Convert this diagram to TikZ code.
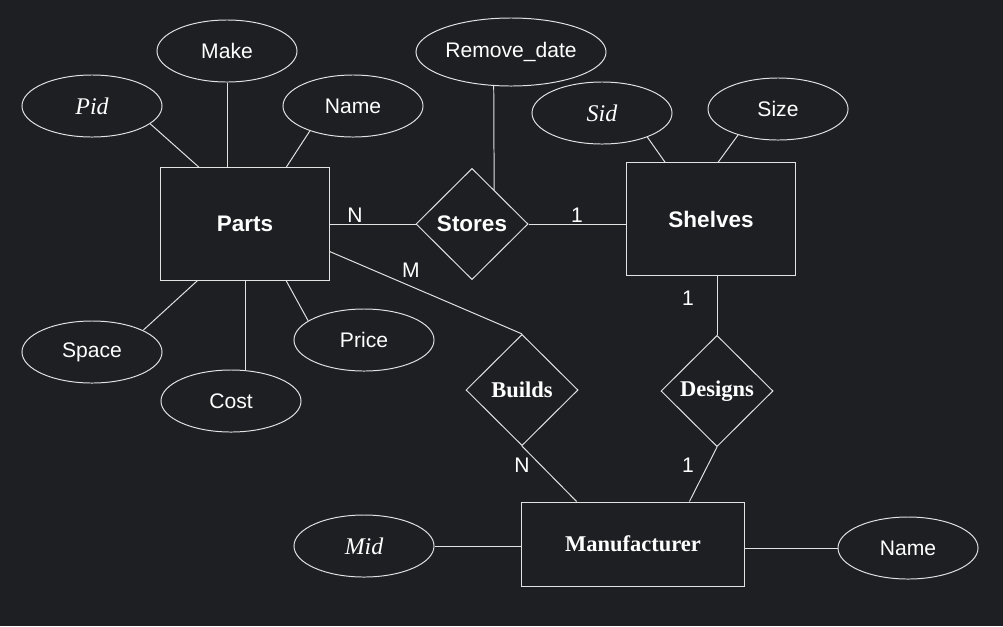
\documentclass[tikz,border=0pt]{standalone}
\usepackage{fontspec}
\setmainfont{Liberation Serif}
\setsansfont{Liberation Sans}
\usetikzlibrary{shapes.geometric,calc}

\definecolor{bgdark}{HTML}{1D1F23}
\definecolor{linegray}{HTML}{E2E2E2}

\begin{document}
\begin{tikzpicture}[
    x=0.025cm, y=-0.025cm,
    line width=0.7pt,
    entity/.style={draw=linegray, rectangle, inner sep=0pt, minimum width=4.2cm, minimum height=2.8cm, text=white, font=\sffamily\bfseries\fontsize{16}{19}\selectfont},
    attrib/.style={draw=linegray, ellipse, inner sep=0pt, minimum width=3.5cm, minimum height=1.55cm, text=white, font=\sffamily\fontsize{15}{18}\selectfont},
    keyattr/.style={attrib, font=\itshape\fontsize{17}{20}\selectfont},
    rel/.style={draw=linegray, diamond, inner sep=0pt, minimum width=2.8cm, minimum height=2.78cm, text=white, font=\bfseries\fontsize{16}{19}\selectfont},
    card/.style={text=white, inner sep=0pt, font=\sffamily\fontsize{15}{18}\selectfont},
    link/.style={draw=linegray}
]

\fill[bgdark] (0,0) rectangle (1003,626);
\useasboundingbox (0,0) rectangle (1003,626);

% entities
\node[entity] (parts) at (245,224) {Parts};
\node[entity] (shelves) at (711,219) {Shelves};
\node[entity, minimum width=5.55cm, minimum height=2.1cm, font=\bfseries\fontsize{16}{19}\selectfont] (manu) at (633,544) {Manufacturer};

% relationships
\node[rel, font=\sffamily\bfseries\fontsize{16}{19}\selectfont] (stores) at (472,224) {Stores};
\node[rel] (builds) at (522,390) {Builds};
\node[rel] (designs) at (717,391) {Designs};

% attributes of Parts
\node[keyattr] (pid) at (92,106) {Pid};
\node[attrib] (make) at (227,51) {Make};
\node[attrib] (pname) at (353,106) {Name};
\node[attrib] (space) at (92,352) {Space};
\node[attrib] (cost) at (231,401) {Cost};
\node[attrib] (price) at (364,340) {Price};

% attributes of Stores and Shelves
\node[attrib, minimum width=4.75cm, minimum height=1.7cm] (remove) at (511,52) {Remove\_date};
\node[keyattr] (sid) at (602,113) {Sid};
\node[attrib] (size) at (778,109) {Size};

% attributes of Manufacturer
\node[keyattr] (mid) at (364,546) {Mid};
\node[attrib] (mname) at (908,548) {Name};

% cardinalities
\node[card] (cardps) at (355,215) {N};
\node[card] (cardss) at (577,215) {1};
\node[card] (cardpb) at (411,270) {M};
\node[card] (cardsd) at (688,298) {1};
\node[card] (cardbm) at (522,465) {N};
\node[card] (carddm) at (688,465) {1};

% attribute links
\draw[link] (pid.-17) -- (parts.129);
\draw[link] (make.south) -- (make.south |- parts.north);
\draw[link] (pname.-150) -- (parts.54);
\draw[link] (space.23) -- (parts.-130);
\draw[link] (parts.south) -- (parts.south |- cost.north);
\draw[link] (price.161) -- (parts.-54);
\draw[link] (remove.-117) -- (stores.57);
\draw[link] (sid.-28) -- (shelves.129);
\draw[link] (size.-147) -- (shelves.83);
\draw[link] (mid.east) -- (mid.east -| manu.west);
\draw[link] (mname.west -| manu.east) -- (mname.west);

% relationship links
\draw[link] (parts.east) -- (stores.west);
\draw[link] (stores.east) -- (stores.east -| shelves.west);
\draw[link] (parts.-18) -- (builds.north);
\draw[link] (designs.north |- shelves.south) -- (designs.north);
\draw[link] (builds.south) -- (manu.143);
\draw[link] (designs.south) -- (manu.37);

\end{tikzpicture}
\end{document}
